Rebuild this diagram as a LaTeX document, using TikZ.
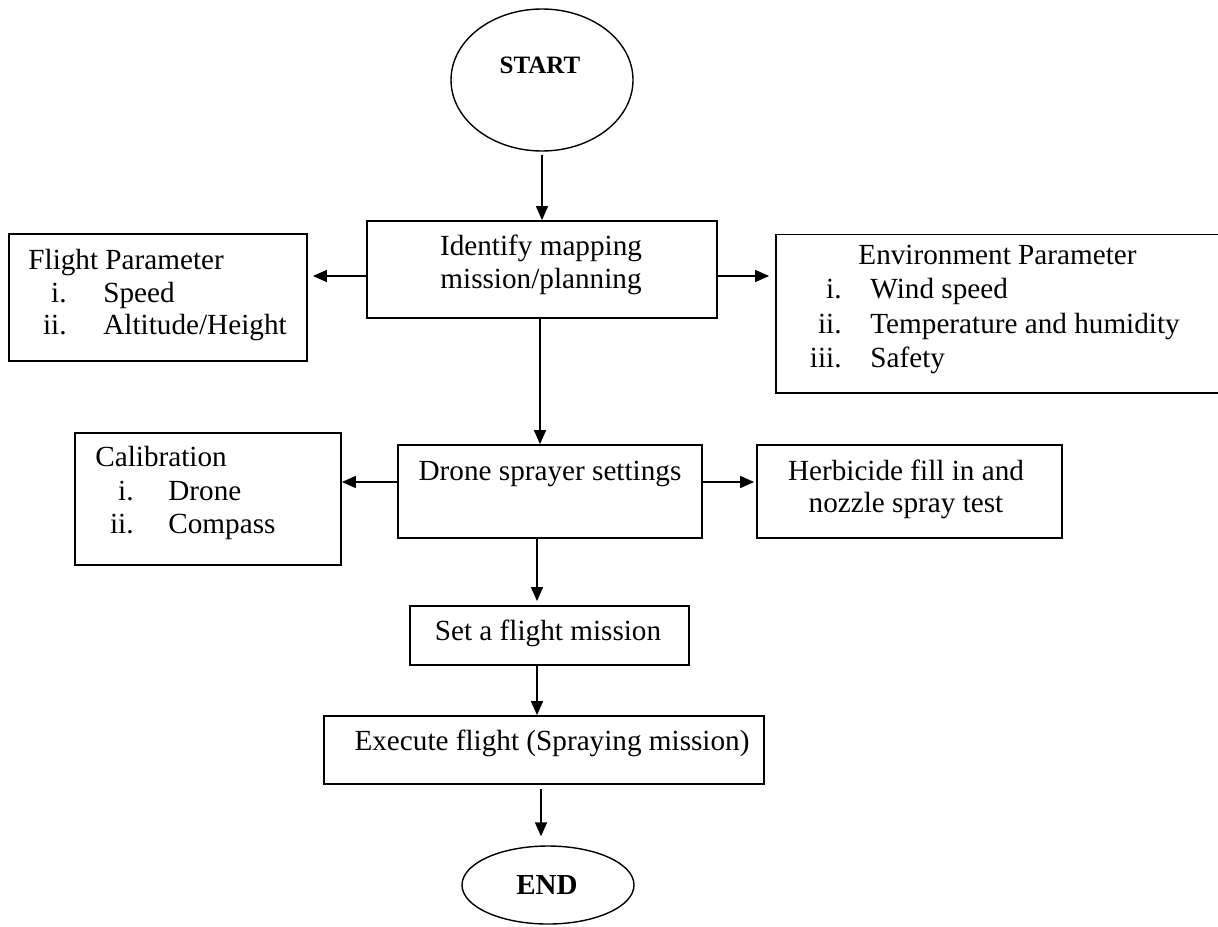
\documentclass[tikz,border=0pt]{standalone}
\usepackage{fontspec}
\setmainfont{Liberation Serif}
\usetikzlibrary{arrows.meta,shapes.geometric}
\newcommand\mytxt{\fontsize{14.6}{16.5}\selectfont}
\begin{document}
\begin{tikzpicture}[x=0.5pt,y=-0.5pt,
  box/.style={draw,line width=0.9pt,rectangle,inner sep=0pt},
  oval/.style={draw,line width=0.7pt,ellipse,inner sep=0pt},
  txt/.style={inner sep=0pt,anchor=base,font=\mytxt},
  txtw/.style={inner sep=0pt,anchor=base west,font=\mytxt},
  txte/.style={inner sep=0pt,anchor=base east,font=\mytxt},
  arr/.style={line width=0.8pt,-{Triangle[width=6pt,length=7pt]}}]
\useasboundingbox (0,0) rectangle (1218,926);
% shapes
\node[oval,minimum width=91pt,minimum height=71pt] (start) at (542,80) {};
\node[font=\fontsize{12.5}{14}\selectfont\bfseries,inner sep=0pt] (starttext) at (540,65) {START};
\node[box,minimum width=175pt,minimum height=48.5pt] (identify) at (542,269.5) {};
\node[box,minimum width=149pt,minimum height=63.5pt] (flight) at (158,297.5) {};
\node[box,minimum width=225pt,minimum height=79.25pt] (env) at (1001,313.75) {};
\node[box,minimum width=133pt,minimum height=66pt] (calib) at (208,499) {};
\node[box,minimum width=152pt,minimum height=46.5pt] (drone) at (550,491.5) {};
\node[box,minimum width=152.5pt,minimum height=46.5pt] (herb) at (909.5,491.5) {};
\node[box,minimum width=139.5pt,minimum height=29.5pt] (setm) at (549.5,635.5) {};
\node[box,minimum width=220pt,minimum height=34pt] (exec) at (544,750) {};
\node[oval,minimum width=86pt,minimum height=39pt] (endn) at (548,885) {};
\node[font=\fontsize{14.5}{16}\selectfont\bfseries,inner sep=0pt] (endtext) at (547,885) {END};
% texts
\node[txt] (t1a) at (541,255) {Identify mapping};
\node[txt] (t1b) at (541,288) {mission/planning};
\node[txtw] (f0) at (28,269) {Flight Parameter};
\node[txte] (f1n) at (67,302) {i.};
\node[txtw] (f1) at (103,302) {Speed};
\node[txte] (f2n) at (67,334) {ii.};
\node[txtw] (f2) at (103,334) {Altitude/Height};
\node[txtw] (e0) at (858,264) {Environment Parameter};
\node[txte] (e1n) at (842,298) {i.};
\node[txtw] (e1) at (870,298) {Wind speed};
\node[txte] (e2n) at (842,333) {ii.};
\node[txtw] (e2) at (870,333) {Temperature and humidity};
\node[txte] (e3n) at (842,367) {iii.};
\node[txtw] (e3) at (870,367) {Safety};
\node[txtw] (c0) at (95,466) {Calibration};
\node[txte] (c1n) at (134,500) {i.};
\node[txtw] (c1) at (168,500) {Drone};
\node[txte] (c2n) at (134,533) {ii.};
\node[txtw] (c2) at (168,533) {Compass};
\node[txt] (dtext) at (550,480) {Drone sprayer settings};
\node[txt] (h1) at (906,480) {Herbicide fill in and};
\node[txt] (h2) at (906,512) {nozzle spray test};
\node[txt] (stext) at (548,640) {Set a flight mission};
\node[txt] (xtext) at (552,750) {Execute flight (Spraying mission)};
% connectors
\draw[arr,shorten <=1.5pt] (start.south) -- (identify.north);
\draw[arr,shorten >=2.5pt] (identify.west |- 0,276) -- (flight.east |- 0,276);
\draw[arr,shorten >=3pt] (identify.east |- 0,276) -- (env.west |- 0,276);
\draw[arr] (identify.south -| 540,0) -- (drone.north -| 540,0);
\draw[arr] (drone.west |- 0,482) -- (calib.east |- 0,482);
\draw[arr,shorten >=1pt] (drone.east |- 0,482) -- (herb.west |- 0,482);
\draw[arr,shorten >=2pt] (drone.south -| 537,0) -- (setm.north -| 537,0);
\draw[arr] (setm.south -| 537,0) -- (exec.north -| 537,0);
\draw[arr,shorten <=2pt,shorten >=4.5pt] (exec.south -| 541,0) -- (endn.north -| 541,0);
\end{tikzpicture}
\end{document}
